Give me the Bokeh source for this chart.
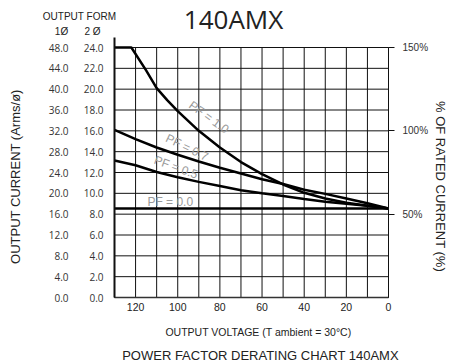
from bokeh.plotting import figure
from bokeh.models import (Range1d, LinearAxis, FixedTicker, Label, ColumnDataSource,
                          NumeralTickFormatter)
from bokeh.core.properties import value
from bokeh.embed import file_html
from bokeh.resources import INLINE

# ---- data ----
voltage = [130, 120, 110, 100, 90, 80, 70, 60, 50, 40, 30, 20, 10, 0]
pf07_current = [32.2, 30.4, 28.8, 27.4, 26.1, 24.9, 23.8, 22.7, 21.8, 20.7, 19.9, 19.0, 18.1, 17.1]
pf05_current = [26.3, 25.4, 24.1, 23.1, 22.2, 21.4, 20.6, 20.0, 19.5, 18.9, 18.4, 18.0, 17.6, 17.1]
pf10_voltage = [130, 122, 115, 110, 105, 100, 90, 80, 70, 60, 50, 40, 30, 20, 10, 0]
pf10_current = [48, 48, 43.6, 40.2, 37.9, 35.8, 32.0, 28.8, 26.0, 23.7, 21.7, 20.1, 19.0, 18.2, 17.6, 17.1]
pf00_voltage = [130, 0]
pf00_current = [17.1, 17.1]

pf_names = ["PF = 1.0", "PF = 0.7", "PF = 0.5", "PF = 0.0"]

x_ticks = [120, 100, 80, 60, 40, 20, 0]
x_grid_ticks = [130, 120, 110, 100, 90, 80, 70, 60, 50, 40, 30, 20, 10, 0]
one_phase_ticks = [0, 4, 8, 12, 16, 20, 24, 28, 32, 36, 40, 44, 48]
two_phase_ticks = [0, 2, 4, 6, 8, 10, 12, 14, 16, 18, 20, 22, 24]
rated_ticks = [16, 32, 48]
rated_labels = ["50%", "100%", "150%"]

ARIAL = "Liberation Sans"
TICKFONT = "Open Sans"

# ---- layout: the chart grid spans px 114..388 (x) and 47..297 (y) of a 454x364 canvas ----
W, H = 454, 364
GX0, GX1, GY0, GY1 = 114, 388, 47, 297
XMAX, YMAX = 130.0, 48.0
xs = (GX1 - GX0) / XMAX           # px per volt
ys = (GY1 - GY0) / YMAX           # px per amp
x_range = Range1d(XMAX + GX0 / xs, -(W - GX1) / xs)
y_range = Range1d(-(H - GY1) / ys, YMAX + GY0 / ys)

p = figure(width=W, height=H, output_backend="svg", toolbar_location=None,
           x_range=x_range, y_range=y_range,
           x_axis_location=None, y_axis_location=None,
           min_border=0, min_border_left=0, min_border_right=0,
           min_border_top=0, min_border_bottom=0)
p.extra_y_ranges = {"two": Range1d(y_range.start / 2, y_range.end / 2)}
p.outline_line_color = None
p.background_fill_color = "white"
p.border_fill_color = "white"
p.xgrid.visible = False
p.ygrid.visible = False

# grid (drawn from the tick arrays through the data scales)
p.segment(x0=x_grid_ticks, y0=[0] * len(x_grid_ticks), x1=x_grid_ticks, y1=[YMAX] * len(x_grid_ticks),
          line_color="#111111", line_width=1)
p.segment(x0=[XMAX] * len(one_phase_ticks), y0=one_phase_ticks, x1=[0] * len(one_phase_ticks),
          y1=one_phase_ticks, line_color="#111111", line_width=1)

# x axis (fixed at y = 0)
xa = LinearAxis(ticker=FixedTicker(ticks=x_ticks), fixed_location=0, bounds=(0, XMAX),
                major_tick_out=0, major_tick_in=0, minor_tick_out=0, minor_tick_in=0,
                major_label_standoff=5, axis_line_color="#333333", axis_line_width=1.5)
xa.major_label_text_font = ARIAL
xa.major_label_text_font_size = "10.5px"
xa.major_label_text_color = "#222222"
p.add_layout(xa, "below")

# inner left axis: 2-phase (fixed at x = 130)
ya2 = LinearAxis(y_range_name="two", ticker=FixedTicker(ticks=two_phase_ticks), fixed_location=XMAX,
                 bounds=(0, 24.96),
                 major_tick_out=0, major_tick_in=0, minor_tick_out=0, minor_tick_in=0,
                 major_label_standoff=11, axis_line_color="#111111", axis_line_width=2)
p.add_layout(ya2, "left")

# outer left axis: 1-phase
ya1 = LinearAxis(ticker=FixedTicker(ticks=one_phase_ticks), fixed_location=XMAX, bounds=(0, YMAX),
                 major_tick_out=0, major_tick_in=0, minor_tick_out=0, minor_tick_in=0,
                 major_label_standoff=46, axis_line_color=None)
p.add_layout(ya1, "left")

for ax in (ya1, ya2):
    ax.formatter = NumeralTickFormatter(format="0.0")
    ax.major_label_text_font = TICKFONT
    ax.major_label_text_font_size = "10px"
    ax.major_label_text_color = "#333333"

# right axis (fixed at x = 0)
ra = LinearAxis(ticker=FixedTicker(ticks=rated_ticks), fixed_location=0, bounds=(0, YMAX),
                major_label_overrides={t: l for t, l in zip(rated_ticks, rated_labels)},
                major_tick_out=6, major_tick_in=0, minor_tick_out=0, minor_tick_in=0,
                major_tick_line_color="#111111", axis_line_color="#111111",
                major_label_standoff=8)
ra.major_label_text_font = ARIAL
ra.major_label_text_font_size = "10px"
ra.major_label_text_color = "#333333"
p.add_layout(ra, "right")

# curves
p.line(pf10_voltage, pf10_current, line_color="black", line_width=2.5)
p.line(voltage, pf07_current, line_color="black", line_width=2.5)
p.line(voltage, pf05_current, line_color="black", line_width=2.5)
p.line(pf00_voltage, pf00_current, line_color="black", line_width=2.5)

# curve labels
lab = ColumnDataSource(dict(x=[85.2, 95.6, 100.8, 114.4], y=[34.6, 28.8, 25.0, 18.4],
                            text=pf_names, angle=[-36, -26, -20, 0],
                            align=["center", "center", "center", "left"]))
p.text(x="x", y="y", text="text", angle="angle", angle_units="deg", source=lab,
       text_align="align", text_baseline="middle", text_color="#9a9a9a",
       text_font=value(ARIAL), text_font_size="12px")

# texts placed in canvas pixels (frame == canvas)
def add_label(text, cx, cy, size, font=ARIAL, color="#222222", align="center",
              baseline="alphabetic", angle=0):
    p.add_layout(Label(x=cx, y=H - cy, x_units="screen", y_units="screen", text=text,
                       text_align=align, text_baseline=baseline, text_font=font,
                       text_font_size=size, text_color=color, angle=angle, angle_units="deg"))

add_label("140AMX", 233, 18, "26px", font="Open Sans", color="#222222")
add_label("OUTPUT FORM", 79, 16, "10px")
add_label("1Ø", 61, 31, "10px")
add_label("2 Ø", 92, 31, "10px")
add_label("OUTPUT CURRENT (Arms/ø)", 15, 176, "13px", baseline="middle", angle=90)
add_label("% OF RATED CURRENT (%)", 440, 186, "13px", baseline="middle", angle=-90)
add_label("OUTPUT VOLTAGE (T ambient = 30°C)", 258, 331, "10.5px")
add_label("POWER FACTOR DERATING CHART 140AMX", 260, 355, "13px")

open("out.html", "w").write(file_html(p, INLINE))
